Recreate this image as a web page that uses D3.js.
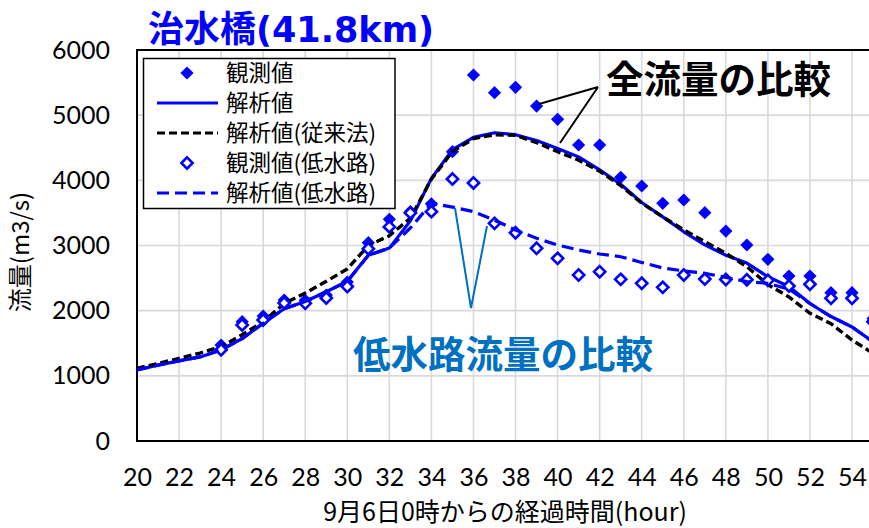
<!DOCTYPE html>
<html>
<head>
<meta charset="utf-8">
<script src="https://cdn.jsdelivr.net/npm/d3@7"></script>
<style>
  body { margin: 0; background: #fff; }
  svg { display: block; }
</style>
</head>
<body>
<svg id="chart" width="869" height="528"></svg>
<script>
// Hours elapsed since 9/6 0:00 for the computed hydrographs
const hoursCalc = [20,21,22,23,24,25,26,27,28,29,30,31,32,33,34,35,36,37,38,39,40,41,42,43,44,45,46,47,48,49,50,51,52,53,54,55];
// 解析値 (total discharge, m3/s)
const calcTotal = [1090,1165,1230,1290,1396,1570,1806,2030,2140,2290,2450,2850,2960,3380,4030,4470,4660,4730,4700,4610,4490,4360,4160,3940,3660,3440,3210,3010,2850,2730,2520,2370,2110,1910,1750,1520];
// 解析値(従来法)
const calcConventional = [1115,1190,1268,1350,1447,1630,1831,2110,2270,2450,2640,3000,3150,3420,4020,4440,4640,4700,4690,4580,4440,4310,4140,3920,3650,3440,3240,3060,2880,2675,2400,2210,1960,1800,1550,1345];
// 解析値(低水路)
const calcLowChannel = [1090,1165,1230,1290,1396,1570,1806,2030,2140,2290,2450,2850,2960,3270,3647,3590,3520,3390,3238,3110,3008,2931,2870,2828,2740,2655,2610,2573,2510,2445,2420,2330,2110,1910,1750,1520];

// Hours of the gauged values
const hoursObs = [24,25,26,27,28,29,30,31,32,33,34,35,36,37,38,39,40,41,42,43,44,45,46,47,48,49,50,51,52,53,54,55];
// 観測値 (total discharge)
const obsTotal = [1473,1831,1918,2164,2160,2240,2440,3043,3401,3520,3640,4440,5616,5345,5427,5140,4936,4542,4542,4046,3913,3647,3698,3503,3222,3008,2788,2532,2532,2276,2276,1880];
// 観測値(低水路)
const obsLowChannel = [1400,1780,1857,2118,2113,2195,2370,2950,3285,3500,3519,4020,3960,3340,3196,2957,2803,2547,2598,2481,2420,2358,2547,2485,2478,2475,2465,2378,2405,2190,2190,1830];

const xTicks = [20,22,24,26,28,30,32,34,36,38,40,42,44,46,48,50,52,54];
const yTicks = [0,1000,2000,3000,4000,5000,6000];
const legendLabels = ["観測値","解析値","解析値(従来法)","観測値(低水路)","解析値(低水路)"];

const BLUE = "#0000ff";
const TEAL = "#0070c0";
const JP = "'Noto Sans CJK JP', 'Noto Sans', sans-serif";
const NUM = "Lato, 'Noto Sans', sans-serif";

const svg = d3.select("#chart");
const plot = { left: 137, top: 50, bottom: 441 };

const x = d3.scaleLinear().domain([20, 56]).range([plot.left, plot.left + 36 * 21.03]);
const y = d3.scaleLinear().domain([0, 6000]).range([plot.bottom, plot.top]);
const xRight = x.range()[1];

// gridlines
const grid = svg.append("g").attr("stroke", "#d9d9d9").attr("stroke-width", 1.6);
grid.selectAll("line.v").data(xTicks.slice(1)).join("line")
  .attr("x1", d => x(d)).attr("x2", d => x(d))
  .attr("y1", plot.top).attr("y2", plot.bottom);
grid.selectAll("line.h").data(yTicks.slice(1, -1)).join("line")
  .attr("x1", plot.left).attr("x2", xRight)
  .attr("y1", d => y(d)).attr("y2", d => y(d));

// plot frame
svg.append("rect")
  .attr("x", plot.left).attr("y", plot.top)
  .attr("width", xRight - plot.left).attr("height", plot.bottom - plot.top)
  .attr("fill", "none").attr("stroke", "#000").attr("stroke-width", 2);

// axes (labels only; frame drawn above)
const xAxis = svg.append("g")
  .attr("transform", `translate(0,${plot.bottom})`)
  .call(d3.axisBottom(x).tickValues(xTicks).tickSize(0).tickPadding(27).tickFormat(d3.format("d")));
xAxis.select(".domain").remove();
xAxis.selectAll("text").attr("font-family", NUM).attr("font-size", 25).attr("fill", "#000");

const yAxis = svg.append("g")
  .attr("transform", `translate(${plot.left},0)`)
  .call(d3.axisLeft(y).tickValues(yTicks).tickSize(0).tickPadding(27).tickFormat(d3.format("d")));
yAxis.select(".domain").remove();
yAxis.selectAll("text").attr("font-family", NUM).attr("font-size", 25).attr("fill", "#000");

// axis titles
svg.append("text")
  .attr("x", 505).attr("y", 520.5)
  .attr("text-anchor", "middle")
  .attr("font-family", JP).attr("font-size", 25)
  .text("9月6日0時からの経過時間(hour)");

svg.append("text")
  .attr("transform", "translate(29,252) rotate(-90)")
  .attr("text-anchor", "middle")
  .attr("font-family", JP).attr("font-size", 24)
  .text("流量(m3/s)");

// chart title
const title = svg.append("text")
  .attr("x", 148).attr("y", 42)
  .attr("font-weight", 700)
  .attr("fill", BLUE);
title.append("tspan").attr("font-family", JP).attr("font-size", 36).text("治水橋");
title.append("tspan").attr("font-family", "'DejaVu Sans', sans-serif").attr("font-size", 35).text("(41.8km)");

const diamond = r => `M0,${-r}L${r},0L0,${r}L${-r},0Z`;
const line = d3.line().x((d, i) => x(hoursCalc[i])).y(d => y(d));

// series in drawing order
const gFilled = svg.append("g");
gFilled.selectAll("path").data(obsTotal).join("path")
  .attr("transform", (d, i) => `translate(${x(hoursObs[i])},${y(d)})`)
  .attr("d", diamond(6.6)).attr("fill", BLUE);

svg.append("path").datum(calcTotal)
  .attr("d", line).attr("fill", "none")
  .attr("stroke", BLUE).attr("stroke-width", 3.2).attr("stroke-linejoin", "round");

svg.append("path").datum(calcConventional)
  .attr("d", line).attr("fill", "none")
  .attr("stroke", "#000").attr("stroke-width", 3.4).attr("stroke-dasharray", "8,4");

const gOpen = svg.append("g");
gOpen.selectAll("path").data(obsLowChannel).join("path")
  .attr("transform", (d, i) => `translate(${x(hoursObs[i])},${y(d)})`)
  .attr("d", diamond(5.6)).attr("fill", "#fff")
  .attr("stroke", BLUE).attr("stroke-width", 2.6);

svg.append("path").datum(calcLowChannel)
  .attr("d", line).attr("fill", "none")
  .attr("stroke", BLUE).attr("stroke-width", 3.2).attr("stroke-dasharray", "12,6");

// annotations
svg.append("path")
  .attr("d", "M598,87L539,104M598,87L560,143")
  .attr("fill", "none").attr("stroke", "#000").attr("stroke-width", 2);
svg.append("text")
  .attr("x", 606).attr("y", 93)
  .attr("font-family", JP).attr("font-weight", 700).attr("font-size", 37.5)
  .text("全流量の比較");

svg.append("path")
  .attr("d", "M455,208L471,308L487,226")
  .attr("fill", "none").attr("stroke", TEAL).attr("stroke-width", 2);
svg.append("text")
  .attr("x", 353).attr("y", 368)
  .attr("font-family", JP).attr("font-weight", 700).attr("font-size", 37.5)
  .attr("fill", TEAL)
  .text("低水路流量の比較");

// legend
const lg = svg.append("g");
lg.append("rect")
  .attr("x", 143.5).attr("y", 58.5).attr("width", 251.5).attr("height", 150)
  .attr("fill", "#fff").attr("stroke", "#000").attr("stroke-width", 1.5);
const rows = lg.selectAll("g.row").data(legendLabels).join("g")
  .attr("transform", (d, i) => `translate(0,${73 + i * 30})`);
rows.append("text")
  .attr("x", 226).attr("dy", "0.36em")
  .attr("font-family", JP).attr("font-size", 22.5)
  .text(d => d);
const keyStyles = [
  { type: "filled" },
  { type: "line", stroke: BLUE, dash: null },
  { type: "line", stroke: "#000", dash: "8,4" },
  { type: "open" },
  { type: "line", stroke: BLUE, dash: "12,6" }
];
rows.each(function (d, i) {
  const g = d3.select(this);
  const k = keyStyles[i];
  if (k.type === "line") {
    g.append("line").attr("x1", 157).attr("x2", 218)
      .attr("stroke", k.stroke).attr("stroke-width", 3.2)
      .attr("stroke-dasharray", k.dash);
  } else if (k.type === "filled") {
    g.append("path").attr("transform", "translate(187,0)").attr("d", diamond(6.6)).attr("fill", BLUE);
  } else {
    g.append("path").attr("transform", "translate(187,0)").attr("d", diamond(5.6))
      .attr("fill", "#fff").attr("stroke", BLUE).attr("stroke-width", 2.6);
  }
});
</script>
</body>
</html>
